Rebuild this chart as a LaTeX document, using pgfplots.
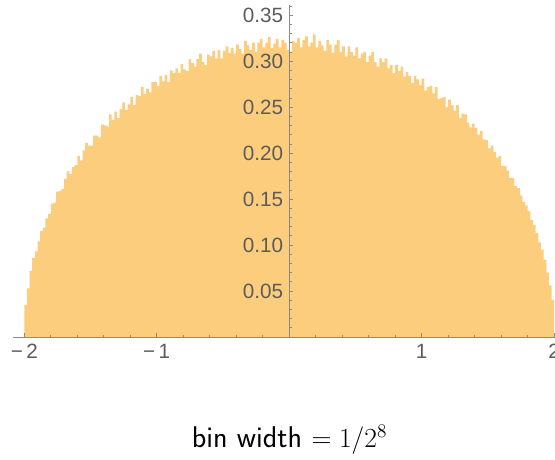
\documentclass[border=0pt]{standalone}
\usepackage{fontspec}
\setmainfont{Liberation Sans}
\usepackage{pgfplots}
\pgfplotsset{compat=1.18}
\definecolor{histo}{HTML}{FCCD7D}
\definecolor{axgray}{HTML}{8A8A8A}
\definecolor{lblgray}{HTML}{5C5C5C}

\begin{document}
\begin{tikzpicture}
\useasboundingbox (-9.75pt,-91.5pt) rectangle (406.5pt,252.75pt);
\begin{axis}[
  at={(0,0)}, anchor=south west,
  scale only axis, width=406.5pt, height=249pt,
  xmin=-2.085, xmax=2.006, ymin=0, ymax=0.361,
  axis lines=middle, axis on top,
  axis line style={-, draw=axgray, line width=0.6pt},
  tick align=inside,
  major tick length=3pt, minor tick length=1.8pt,
  tick style={axgray, line width=0.5pt},
  xtick={-2,-1,1,2}, xticklabels={−\,2,−\,1,1,2},
  minor xtick={-1.8,-1.6,-1.4,-1.2,-0.8,-0.6,-0.4,-0.2,0.2,0.4,0.6,0.8,1.2,1.4,1.6,1.8},
  ytick={0.05,0.10,0.15,0.20,0.25,0.30,0.35},
  minor ytick={0.01,0.02,0.03,0.04,0.06,0.07,0.08,0.09,0.11,0.12,0.13,0.14,0.16,0.17,0.18,0.19,0.21,0.22,0.23,0.24,0.26,0.27,0.28,0.29,0.31,0.32,0.33,0.34,0.36},
  /pgf/number format/assume math mode=true,
  /pgf/number format/fixed, /pgf/number format/fixed zerofill,
  /pgf/number format/precision=2,
  tick label style={font=\fontsize{15.5}{18}\selectfont, text=lblgray},
  xticklabel style={yshift=-2pt},
  yticklabel style={xshift=-1pt},
]
\addplot[const plot, fill=histo, draw=none] coordinates {
(-2.00,0.035) (-1.98,0.053) (-1.96,0.072) (-1.94,0.086) (-1.92,0.093)
(-1.90,0.104) (-1.88,0.115) (-1.86,0.119) (-1.84,0.129) (-1.82,0.134)
(-1.80,0.145) (-1.78,0.146) (-1.76,0.158) (-1.74,0.159) (-1.72,0.161)
(-1.70,0.172) (-1.68,0.180) (-1.66,0.177) (-1.64,0.185) (-1.62,0.187)
(-1.60,0.197) (-1.58,0.192) (-1.56,0.203) (-1.54,0.211) (-1.52,0.208)
(-1.50,0.208) (-1.48,0.219) (-1.46,0.219) (-1.44,0.217) (-1.42,0.231)
(-1.40,0.230) (-1.38,0.229) (-1.36,0.242) (-1.34,0.236) (-1.32,0.245)
(-1.30,0.238) (-1.28,0.248) (-1.26,0.255) (-1.24,0.247) (-1.22,0.253)
(-1.20,0.261) (-1.18,0.252) (-1.16,0.263) (-1.14,0.262) (-1.12,0.272)
(-1.10,0.264) (-1.08,0.270) (-1.06,0.266) (-1.04,0.277) (-1.02,0.277)
(-1.00,0.273) (-0.98,0.284) (-0.96,0.278) (-0.94,0.285) (-0.92,0.277)
(-0.90,0.290) (-0.88,0.287) (-0.86,0.292) (-0.84,0.287) (-0.82,0.297)
(-0.80,0.291) (-0.78,0.289) (-0.76,0.302) (-0.74,0.298) (-0.72,0.294)
(-0.70,0.302) (-0.68,0.308) (-0.66,0.299) (-0.64,0.296) (-0.62,0.307)
(-0.60,0.305) (-0.58,0.311) (-0.56,0.303) (-0.54,0.312) (-0.52,0.303)
(-0.50,0.311) (-0.48,0.316) (-0.46,0.309) (-0.44,0.314) (-0.42,0.308)
(-0.40,0.318) (-0.38,0.313) (-0.36,0.308) (-0.34,0.322) (-0.32,0.317)
(-0.30,0.312) (-0.28,0.320) (-0.26,0.310) (-0.24,0.320) (-0.22,0.324)
(-0.20,0.315) (-0.18,0.320) (-0.16,0.326) (-0.14,0.314) (-0.12,0.319)
(-0.10,0.324) (-0.08,0.315) (-0.06,0.323) (-0.04,0.320) (-0.02,0.312)
(0.00,0.310) (0.02,0.322) (0.04,0.320) (0.06,0.325) (0.08,0.315)
(0.10,0.323) (0.12,0.327) (0.14,0.316) (0.16,0.320) (0.18,0.329)
(0.20,0.315) (0.22,0.322) (0.24,0.317) (0.26,0.311) (0.28,0.323)
(0.30,0.318) (0.32,0.309) (0.34,0.318) (0.36,0.323) (0.38,0.310)
(0.40,0.316) (0.42,0.305) (0.44,0.316) (0.46,0.310) (0.48,0.306)
(0.50,0.315) (0.52,0.303) (0.54,0.308) (0.56,0.310) (0.58,0.299)
(0.60,0.306) (0.62,0.310) (0.64,0.299) (0.66,0.294) (0.68,0.303)
(0.70,0.299) (0.72,0.303) (0.74,0.292) (0.76,0.296) (0.78,0.287)
(0.80,0.296) (0.82,0.289) (0.84,0.294) (0.86,0.283) (0.88,0.288)
(0.90,0.284) (0.92,0.276) (0.94,0.284) (0.96,0.280) (0.98,0.274)
(1.00,0.281) (1.02,0.268) (1.04,0.272) (1.06,0.273) (1.08,0.265)
(1.10,0.272) (1.12,0.259) (1.14,0.260) (1.16,0.261) (1.18,0.250)
(1.20,0.258) (1.22,0.252) (1.24,0.246) (1.26,0.252) (1.28,0.238)
(1.30,0.243) (1.32,0.242) (1.34,0.233) (1.36,0.228) (1.38,0.232)
(1.40,0.227) (1.42,0.220) (1.44,0.224) (1.46,0.215) (1.48,0.214)
(1.50,0.205) (1.52,0.208) (1.54,0.201) (1.56,0.195) (1.58,0.197)
(1.60,0.186) (1.62,0.186) (1.64,0.181) (1.66,0.173) (1.68,0.173)
(1.70,0.164) (1.72,0.162) (1.74,0.154) (1.76,0.147) (1.78,0.143)
(1.80,0.137) (1.82,0.127) (1.84,0.122) (1.86,0.113) (1.88,0.103)
(1.90,0.095) (1.92,0.084) (1.94,0.070) (1.96,0.056) (1.98,0.040)
(2.00,0.040)
} \closedcycle;
\end{axis}
\node at (207.4pt,-77.25pt) {\fontsize{22.5}{27}\selectfont\sffamily bin width $= 1/2^8$};
\end{tikzpicture}
\end{document}
